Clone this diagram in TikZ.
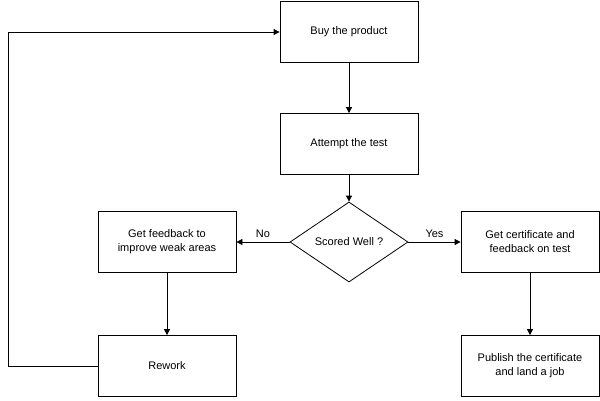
\documentclass[tikz,border=0pt]{standalone}
\usepackage{fontspec}
\setmainfont{Liberation Sans}
\usetikzlibrary{shapes.geometric,arrows.meta}
\begin{document}
\begin{tikzpicture}[x=1pt,y=-1pt,
  box node/.style={rectangle,draw,thick,minimum width=138pt,minimum height=61pt,align=center,font=\fontsize{11}{14}\selectfont},
  dec node/.style={diamond,draw,thick,minimum width=118pt,minimum height=80pt,inner sep=0pt,font=\fontsize{11}{14}\selectfont},
  >={Triangle[length=6pt,width=6pt]}]
\useasboundingbox (0,0) rectangle (600,400);

\node[box node] (n0) at (349,32) {Buy the product};
\node[box node] (n1) at (349,144) {Attempt the test};
\node[dec node] (n2) at (349,242) {Scored Well ?};
\node[box node] (n3) at (167,242) {Get feedback to\\improve weak areas};
\node[box node] (n4) at (530,242) {Get certificate and\\feedback on test};
\node[box node] (n5) at (167,366) {Rework};
\node[box node] (n6) at (530,366) {Publish the certificate\\and land a job};
\coordinate (c0) at (8,366);
\coordinate (c1) at (8,32);

\path[] (n0) [->,thick] edge node [] {} (n1);
\path[] (n1) [->,thick] edge node [] {} (n2);
\path[] (n2) [->,thick] edge node [above=1pt,font=\fontsize{11}{14}\selectfont] {No} (n3);
\path[] (n2) [->,thick] edge node [above=1pt,font=\fontsize{11}{14}\selectfont] {Yes} (n4);
\path[] (n3) [->,thick] edge node [] {} (n5);
\path[] (n4) [->,thick] edge node [] {} (n6);
\draw[->,thick] (n5) -- (c0) -- (c1) -- (n0);
\end{tikzpicture}
\end{document}
